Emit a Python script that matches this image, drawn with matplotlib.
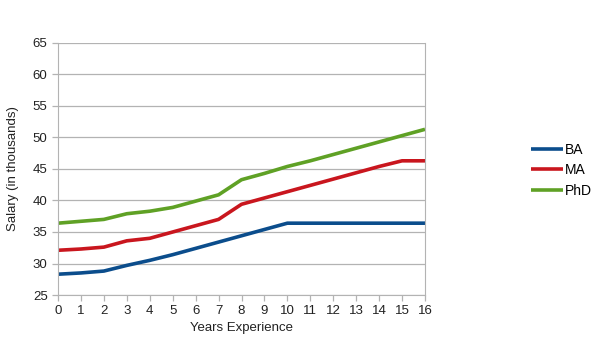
import matplotlib
matplotlib.use("Agg")
import matplotlib.pyplot as plt

plt.rcParams['font.family'] = ['Liberation Sans', 'DejaVu Sans']

years = list(range(17))
ba = [28.3, 28.5, 28.8, 29.7, 30.5, 31.4, 32.4, 33.4, 34.4, 35.4, 36.4, 36.4, 36.4, 36.4, 36.4, 36.4, 36.4]
ma = [32.1, 32.3, 32.6, 33.6, 34.0, 35.0, 36.0, 37.0, 39.4, 40.4, 41.4, 42.4, 43.4, 44.4, 45.4, 46.3, 46.3]
phd = [36.4, 36.7, 37.0, 37.9, 38.3, 38.9, 39.9, 40.9, 43.3, 44.3, 45.4, 46.3, 47.3, 48.3, 49.3, 50.3, 51.3]
series_names = ["BA", "MA", "PhD"]
colors = ["#0b4d8c", "#c9161e", "#5fa125"]

fig = plt.figure(figsize=(6.05, 3.4), dpi=100)
ax = fig.add_axes([58/605, 1-295/340, (425-58)/605, (295-43)/340])

for vals, name, c in zip([ba, ma, phd], series_names, colors):
    ax.plot(years, vals, color=c, lw=2.6, label=name, solid_capstyle='butt')

ax.set_xlim(0, 16)
ax.set_ylim(25, 65)
ax.set_xticks(years)
ax.set_yticks(range(25, 66, 5))
ax.grid(axis='y', color='#b3b3b3', lw=0.9)
ax.set_axisbelow(True)
for s in ['left', 'right', 'bottom']:
    ax.spines[s].set_color('#b3b3b3')
ax.spines['top'].set_visible(False)
ax.tick_params(axis='both', colors='#b3b3b3', labelcolor='#222222', labelsize=9.5, length=4, width=0.9)
ax.tick_params(axis='x', pad=3)
ax.set_xlabel("Years Experience", fontsize=9.5, color='#222222', labelpad=4)
ax.set_ylabel("Salary (in thousands)", fontsize=9.5, color='#222222', labelpad=10)

leg = fig.legend(loc='upper left', bbox_to_anchor=(531/605, 1-143/340), frameon=False,
                 borderaxespad=0, borderpad=0,
                 fontsize=10, handlelength=2.3, handletextpad=0.15, labelspacing=0.45)

fig.savefig("out.png", dpi=100)
